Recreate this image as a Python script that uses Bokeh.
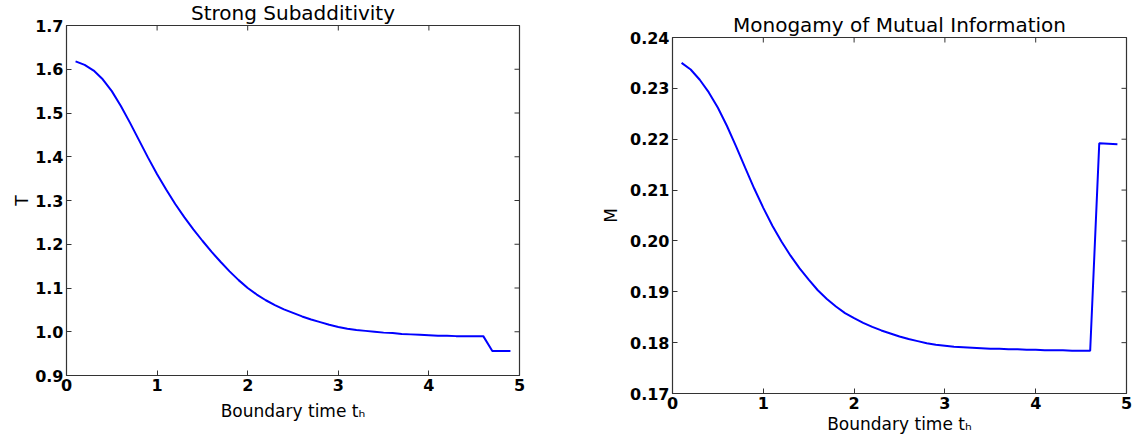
import math
from bokeh.plotting import figure
from bokeh.layouts import row
from bokeh.models import Range1d, FixedTicker, PrintfTickFormatter
from bokeh.embed import file_html
from bokeh.resources import INLINE

# ---------------- data ----------------
boundary_time = [0.1, 0.2, 0.3, 0.4, 0.5, 0.6, 0.7, 0.8, 0.9, 1.0,
                 1.1, 1.2, 1.3, 1.4, 1.5, 1.6, 1.7, 1.8, 1.9, 2.0,
                 2.1, 2.2, 2.3, 2.4, 2.5, 2.6, 2.7, 2.8, 2.9, 3.0,
                 3.1, 3.2, 3.3, 3.4, 3.5, 3.6, 3.7, 3.8, 3.9, 4.0,
                 4.1, 4.2, 4.3, 4.4, 4.5, 4.6, 4.7, 4.8, 4.9]

T_values = [1.618, 1.610, 1.597, 1.577, 1.550, 1.516, 1.478, 1.438, 1.398, 1.360,
            1.325, 1.292, 1.262, 1.234, 1.208, 1.183, 1.160, 1.138, 1.118, 1.100,
            1.085, 1.072, 1.061, 1.051, 1.043, 1.035, 1.028, 1.022, 1.016, 1.011,
            1.007, 1.004, 1.002, 1.000, 0.998, 0.997, 0.995, 0.994, 0.993, 0.992,
            0.991, 0.991, 0.990, 0.990, 0.990, 0.990, 0.956, 0.956, 0.956]

M_values = [0.2350, 0.2337, 0.2317, 0.2292, 0.2262, 0.2226, 0.2186, 0.2144, 0.2103, 0.2065,
            0.2030, 0.1999, 0.1971, 0.1946, 0.1924, 0.1903, 0.1886, 0.1871, 0.1858, 0.1848,
            0.1839, 0.1831, 0.1824, 0.1818, 0.1812, 0.1807, 0.1803, 0.1799, 0.1796, 0.1794,
            0.1792, 0.1791, 0.1790, 0.1789, 0.1788, 0.1788, 0.1787, 0.1787, 0.1786, 0.1786,
            0.1785, 0.1785, 0.1785, 0.1784, 0.1784, 0.1784, 0.2192, 0.2191, 0.2190]

x_ticks = [0, 1, 2, 3, 4, 5]
T_ticks = [0.9, 1.0, 1.1, 1.2, 1.3, 1.4, 1.5, 1.6, 1.7]
M_ticks = [0.17, 0.18, 0.19, 0.20, 0.21, 0.22, 0.23, 0.24]

titles = ["Strong Subadditivity", "Monogamy of Mutual Information"]
y_labels = ["T", "M"]
x_label = "Boundary time t\u2095"

FONT = "DejaVu Sans"
TICK_COLOR = "#333333"


def make_plot(title, ylabel, y, yticks, yfmt, border, fw, fh, ylab_standoff, xlab_standoff):
    left, right, top, bottom = border
    p = figure(output_backend="svg", toolbar_location=None,
               frame_width=fw, frame_height=fh,
               min_border_left=left, min_border_right=right,
               min_border_top=top, min_border_bottom=bottom,
               x_range=Range1d(x_ticks[0], x_ticks[-1]),
               y_range=Range1d(yticks[0], yticks[-1]))
    p.line(boundary_time, y, line_color="#0000ff", line_width=2)

    # inward tick marks on the top and right edges (half of each dash is clipped by the frame)
    p.scatter(x=x_ticks, y=[yticks[-1]] * len(x_ticks), marker="dash", size=10,
              angle=math.pi / 2, line_color=TICK_COLOR, line_width=1)
    p.scatter(x=[x_ticks[-1]] * len(yticks), y=yticks, marker="dash", size=10,
              line_color=TICK_COLOR, line_width=1)

    p.title.text = title
    p.title.text_font = FONT
    p.title.text_font_size = "20px"
    p.title.text_font_style = "normal"
    p.title.text_color = "black"
    p.title.align = "center"
    p.title.standoff = 2

    p.grid.visible = False
    p.background_fill_color = "white"
    p.border_fill_color = "white"
    p.outline_line_color = TICK_COLOR
    p.outline_line_width = 1.2

    for ax in (p.xaxis[0], p.yaxis[0]):
        ax.major_tick_in = 5
        ax.major_tick_out = 0
        ax.minor_tick_line_color = None
        ax.axis_line_color = None
        ax.major_tick_line_color = TICK_COLOR
        ax.major_label_text_font = FONT
        ax.major_label_text_font_style = "bold"
        ax.major_label_text_font_size = "16px"
        ax.major_label_text_color = "black"
        ax.axis_label_text_font = FONT
        ax.axis_label_text_font_style = "normal"
        ax.axis_label_text_font_size = "17px"
        ax.axis_label_text_color = "black"

    p.xaxis[0].ticker = FixedTicker(ticks=x_ticks)
    p.xaxis[0].formatter = PrintfTickFormatter(format="%d")
    p.xaxis[0].axis_label = x_label
    p.xaxis[0].major_label_standoff = 3
    p.xaxis[0].axis_label_standoff = xlab_standoff

    p.yaxis[0].ticker = FixedTicker(ticks=yticks)
    p.yaxis[0].formatter = PrintfTickFormatter(format=yfmt)
    p.yaxis[0].axis_label = ylabel
    p.yaxis[0].major_label_standoff = 3
    p.yaxis[0].axis_label_standoff = ylab_standoff
    return p


p1 = make_plot(titles[0], y_labels[0], T_values, T_ticks, "%.1f",
               (66, 41, 25, 59), 453, 350, 0, 7)
p2 = make_plot(titles[1], y_labels[1], M_values, M_ticks, "%.2f",
               (112, 9, 37, 41), 454, 356, 6, 2)
# lift the left panel so that its frame starts higher, as in the reference
p1.margin = (-12, 0, 0, 0)

layout = row(p1, p2)
open("out.html", "w").write(file_html(layout, INLINE))
